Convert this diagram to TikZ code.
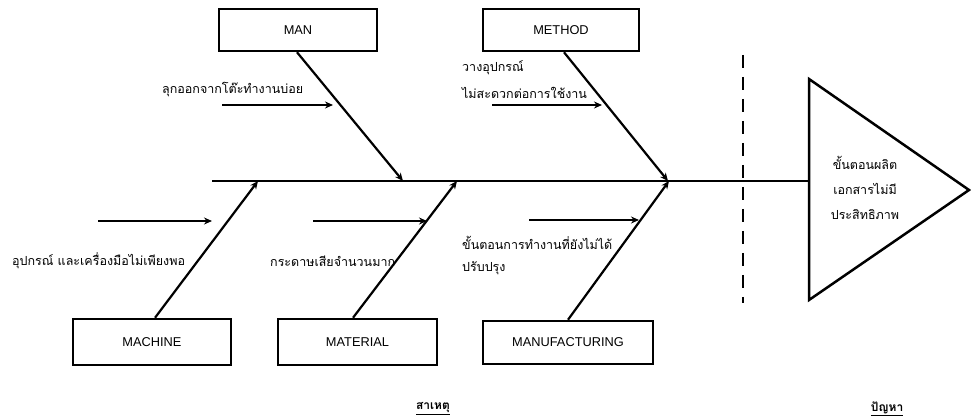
\documentclass[tikz,border=0pt]{standalone}
\usepackage{fontspec}
\setmainfont{Liberation Sans}
\newfontfamily\thai[Script=Thai]{Loma}
\usetikzlibrary{arrows.meta}
\tikzset{
  box/.style={draw, line width=2.5pt, inner sep=0pt, font=\fontsize{12.8}{14}\selectfont},
  arr/.style={line width=2.2pt, -{Stealth[length=8pt,width=7pt]}},
  thtext/.style={font=\thai\fontsize{12.5}{20}\selectfont, inner sep=0pt, anchor=west},
  captxt/.style={font=\thai\bfseries\fontsize{12}{14}\selectfont, inner sep=0pt}
}
\begin{document}
\begin{tikzpicture}[x=1pt,y=-1pt]
\useasboundingbox (0,0) rectangle (971,419);
% boxes
\node[box, minimum width=158pt, minimum height=42pt] (man) at (298,30) {MAN};
\node[box, minimum width=156pt, minimum height=42pt] (method) at (561,30) {METHOD};
\node[box, minimum width=158pt, minimum height=46pt] (machine) at (152,342) {MACHINE};
\node[box, minimum width=159pt, minimum height=46pt] (material) at (357.5,342) {MATERIAL};
\node[box, minimum width=170pt, minimum height=43pt] (manuf) at (568,342.5) {MANUFACTURING};
% triangle
\coordinate (tA) at (809,79);
\coordinate (tB) at (809,300);
\coordinate (tC) at (969,190);
\draw[line width=2.5pt, line join=miter] (tA) -- (tC) -- (tB) -- cycle;
\node[font=\thai\fontsize{12.5}{25}\selectfont, align=center, inner sep=0pt] (prob) at (865,188) {ขั้นตอนผลิต\\เอกสารไม่มี\\ประสิทธิภาพ};
% spine
\coordinate (s0) at (212,181);
\coordinate (s1) at (809,181);
\draw[line width=2.6pt] (s0) -- (s1);
% junctions on spine
\coordinate (jman) at (403,181);
\coordinate (jmet) at (668,181);
\coordinate (jmac) at (258,181);
\coordinate (jmat) at (457,181);
\coordinate (jmnf) at (669,181);
\draw[arr] ([xshift=-1pt]man.south) -- (jman);
\draw[arr] ([xshift=3pt]method.south) -- (jmet);
\draw[arr] ([xshift=3pt]machine.north) -- (jmac);
\draw[arr] ([xshift=-4.5pt]material.north) -- (jmat);
\draw[arr] (manuf.north) -- (jmnf);
% small arrows
\coordinate (a1s) at (222,105); \coordinate (a1e) at (333,105);
\coordinate (a2s) at (492,105); \coordinate (a2e) at (602,105);
\coordinate (a3s) at (98,221);  \coordinate (a3e) at (212,221);
\coordinate (a4s) at (313,221); \coordinate (a4e) at (427,221);
\coordinate (a5s) at (529,220); \coordinate (a5e) at (639,220);
\foreach \s/\e in {a1s/a1e,a2s/a2e,a3s/a3e,a4s/a4e,a5s/a5e}
  \draw[arr] (\s) -- (\e);
% cause texts
\node[thtext] (t1) at (162,90) {ลุกออกจากโต๊ะทำงานบ่อย};
\node[thtext] (t2a) at (462,68) {วางอุปกรณ์};
\node[thtext] (t2b) at (462,93) {ไม่สะดวกต่อการใช้งาน};
\node[thtext] (t3) at (12,261) {อุปกรณ์ และเครื่องมือไม่เพียงพอ};
\node[thtext] (t4) at (270,261) {กระดาษเสียจำนวนมาก};
\node[thtext] (t5a) at (462,243) {ขั้นตอนการทำงานที่ยังไม่ได้};
\node[thtext] (t5b) at (462,268) {ปรับปรุง};
% captions
\node[captxt] (c1) at (433,409) {\underline{สาเหตุ}};
\node[captxt] (c2) at (887,409) {\underline{ปัญหา}};
% dashed divider
\coordinate (d0) at (743,55);
\coordinate (d1) at (743,303);
\draw[line width=2.6pt, dash pattern=on 13pt off 9pt] (d0) -- (d1);
\end{tikzpicture}
\end{document}
